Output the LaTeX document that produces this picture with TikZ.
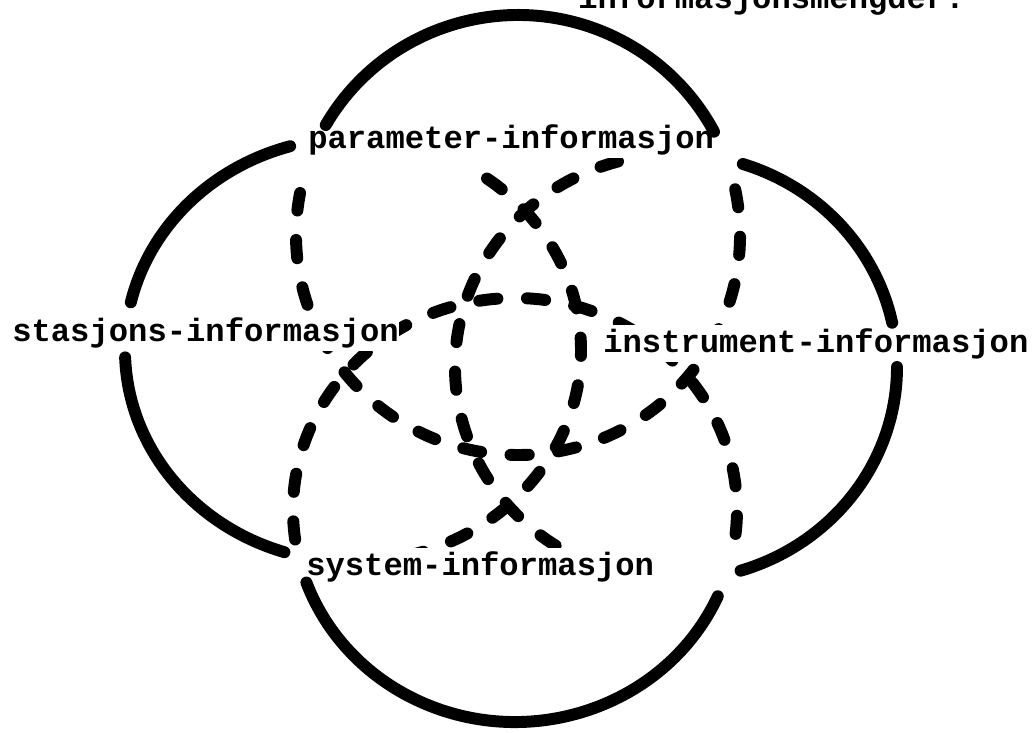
\documentclass[tikz,border=0pt]{standalone}
\usepackage{fontspec}
\setmonofont{Liberation Mono}
\tikzset{outline/.style =
   {draw,
    line width=8.5pt,
    line cap=round}}
\tikzset{overlap/.style =
   {draw,
    line width=8.5pt,
    line cap=round,
    dash pattern=on 13pt off 21pt}}
\tikzset{setname/.style =
   {fill=white,
    inner xsep=0pt,
    inner ysep=2pt,
    anchor=base west,
    font=\ttfamily\bfseries\fontsize{22.9}{27}\selectfont}}

\begin{document}
\begin{tikzpicture}[x=0.025cm, y=-0.025cm]

    \useasboundingbox (0,0) rectangle (1032,732);

    \draw [overlap] (518,235) ++(348:222 and 220)
        arc [start angle=348, end angle=551, x radius=222, y radius=220];
    \draw [overlap] (353,350) ++(-54:228 and 212)
        arc [start angle=-54, end angle=100, x radius=228, y radius=212];
    \draw [overlap] (676,367) ++(123:221 and 213)
        arc [start angle=123, end angle=259, x radius=221, y radius=213];
    \draw [overlap] (515,510) ++(172:222 and 212)
        arc [start angle=172, end angle=373, x radius=222, y radius=212];

    \node [setname] (heading) at (578,8) {informasjonsmengder.};
    \node [setname] (parameter) at (308,148) {parameter-informasjon};
    \node [setname] (stasjons) at (12,341) {stasjons-informasjon};
    \node [setname] (instrument) at (603,352) {instrument-informasjon};
    \node [setname] (system) at (306,575) {system-informasjon};

    \draw [outline] (518,235) ++(210:222 and 220)
        arc [start angle=210, end angle=332, x radius=222, y radius=220];
    \draw [outline] (353,350) ++(193:228 and 212)
        arc [start angle=193, end angle=254, x radius=228, y radius=212];
    \draw [outline] (353,350) ++(107.5:228 and 212)
        arc [start angle=107.5, end angle=178, x radius=228, y radius=212];
    \draw [outline] (676,367) ++(287.6:221 and 213)
        arc [start angle=287.6, end angle=348, x radius=221, y radius=213];
    \draw [outline] (676,367) ++(0:221 and 213)
        arc [start angle=0, end angle=73, x radius=221, y radius=213];
    \draw [outline] (515,510) ++(24:222 and 212)
        arc [start angle=24, end angle=160, x radius=222, y radius=212];

\end{tikzpicture}
\end{document}
